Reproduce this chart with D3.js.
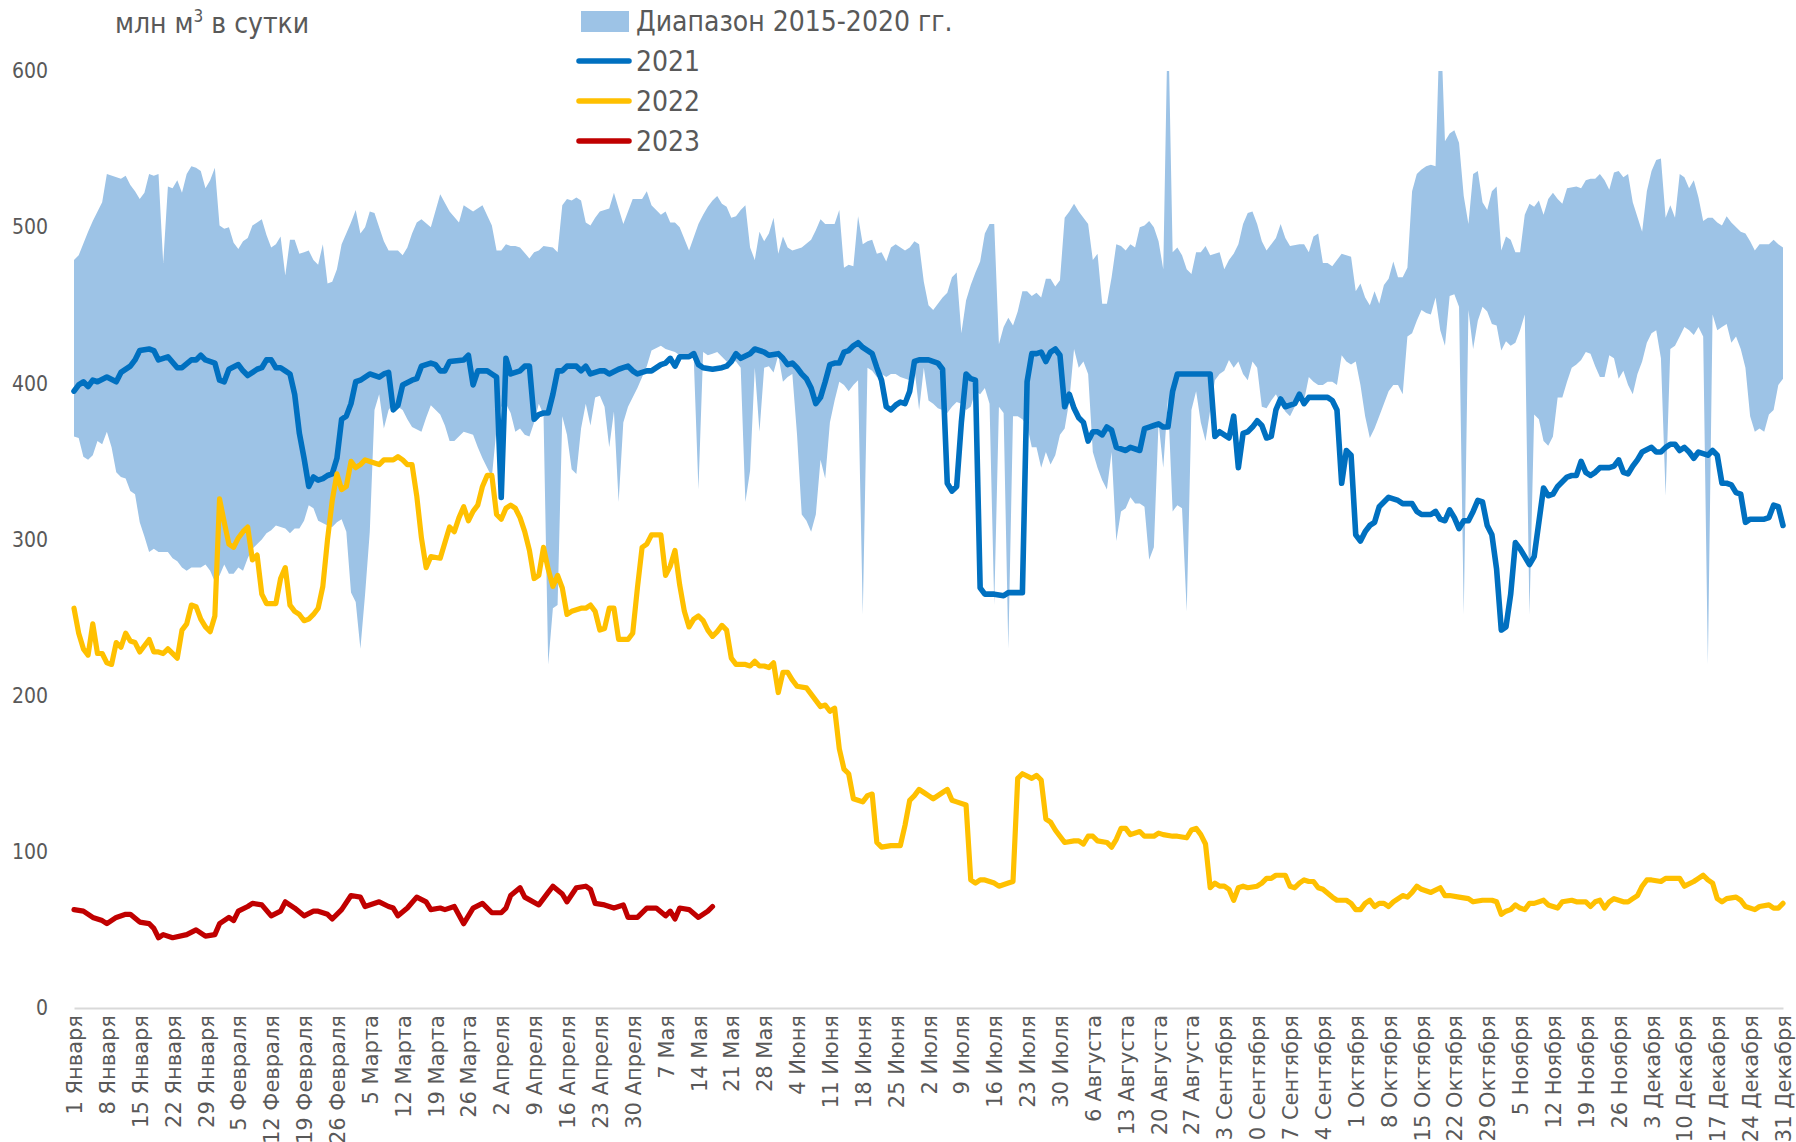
<!DOCTYPE html>
<html>
<head>
<meta charset="utf-8">
<script src="https://cdn.jsdelivr.net/npm/d3@7"></script>
<style>
  body { margin: 0; background: #fff; }
  svg { display: block; }
</style>
</head>
<body>
<script>
// tick labels every 7 days, day index 0 = 1 January
const dayLabels = ["1 Января","8 Января","15 Января","22 Января","29 Января","5 Февраля","12 Февраля","19 Февраля","26 Февраля",
  "5 Марта","12 Марта","19 Марта","26 Марта","2 Апреля","9 Апреля","16 Апреля","23 Апреля","30 Апреля","7 Мая","14 Мая",
  "21 Мая","28 Мая","4 Июня","11 Июня","18 Июня","25 Июня","2 Июля","9 Июля","16 Июля","23 Июля","30 Июля","6 Августа",
  "13 Августа","20 Августа","27 Августа","3 Сентября","10 Сентября","17 Сентября","24 Сентября","1 Октября","8 Октября",
  "15 Октября","22 Октября","29 Октября","5 Ноября","12 Ноября","19 Ноября","26 Ноября","3 Декабря","10 Декабря",
  "17 Декабря","24 Декабря","31 Декабря"];
const yTicks = [0, 100, 200, 300, 400, 500, 600];

// range 2015-2020, upper edge [day, value]
const bandHi = [[0,479],[1,482],[3,497],[4,504],[6,516],[7,534],[10,531],[11,533],[12,527],[13,523],[14,518],[15,522],[16,534],[17,533],[18,534],[19,477],[20,526],[21,525],[22,530],[23,522],[24,534],[25,539],[26,538],[27,536],[28,525],[29,530],[30,538],[31,501],[32,499],[33,500],[34,490],[35,486],[36,491],[37,493],[38,501],[39,503],[40,505],[41,495],[42,487],
  [43,489],[44,494],[45,469],[46,492],[47,492],[48,483],[49,484],[50,485],[51,479],[52,476],[53,489],[54,464],[55,465],[56,473],[57,489],[59,503],[60,511],[61,496],[62,500],[63,510],[64,509],[65,500],[66,491],[67,485],[69,485],[70,482],[71,487],[72,496],[73,503],[74,505],[76,500],[78,521],[80,510],[82,503],[83,514],[85,510],[87,514],[89,501],[90,485],
  [91,485],[92,489],[93,488],[94,488],[95,487],[97,480],[98,484],[99,485],[100,488],[102,487],[103,484],[104,514],[105,518],[106,517],[107,519],[108,517],[109,503],[110,501],[111,506],[112,510],[114,512],[115,522],[116,512],[117,502],[118,510],[119,518],[121,518],[122,523],[123,514],[125,508],[126,510],[127,503],[128,503],[129,500],[131,485],[133,502],[134,508],[135,513],
  [136,517],[137,520],[138,515],[139,513],[140,506],[141,507],[142,511],[143,514],[144,487],[145,479],[146,497],[147,491],[148,496],[149,506],[150,483],[151,494],[152,487],[153,485],[155,487],[157,492],[158,498],[159,505],[160,502],[162,502],[163,511],[164,474],[165,476],[166,475],[167,507],[168,489],[169,491],[170,492],[171,483],[172,484],[173,478],[174,487],[175,489],[177,485],[178,487],[179,491],[180,489],[181,465],
  [182,450],[183,447],[184,451],[185,455],[186,458],[187,468],[188,471],[189,432],[190,453],[191,463],[192,471],[193,478],[194,496],[195,502],[196,502],[197,425],[198,436],[199,442],[200,437],[201,446],[202,459],[203,459],[204,456],[205,458],[206,455],[207,467],[208,467],[209,462],[210,466],[211,506],[212,510],[213,515],[214,510],[216,502],[217,479],[218,483],[219,451],[220,451],[221,468],[222,489],[223,488],[224,485],[225,489],[226,487],
  [227,500],[228,501],[229,504],[230,500],[231,491],[232,473],[233,640],[234,484],[235,487],[236,482],[237,473],[238,470],[239,484],[240,484],[241,488],[242,482],[243,483],[244,484],[245,473],[246,479],[247,483],[248,489],[249,502],[250,509],[251,510],[252,502],[253,491],[254,485],[256,493],[257,502],[258,493],[259,488],[261,489],[262,489],[263,484],[264,494],[265,496],[266,477],[267,477],[268,475],[269,479],[270,483],[272,481],[273,459],[274,464],
  [275,455],[276,450],[277,459],[278,451],[279,463],[280,467],[281,478],[282,468],[283,468],[284,474],[285,523],[286,534],[287,537],[288,539],[289,540],[290,539],[291,640],[292,555],[293,560],[294,562],[295,554],[296,520],[297,502],[298,534],[299,536],[300,516],[301,511],[302,523],[303,526],[304,485],[305,494],[306,492],[307,484],[308,484],[309,508],[310,515],[311,513],[312,517],[313,508],[314,518],[315,522],[316,518],[317,515],[318,525],
  [320,526],[321,525],[322,530],[323,531],[324,531],[325,534],[326,530],[327,524],[328,535],[329,536],[330,532],[331,534],[332,516],[334,497],[335,523],[336,536],[337,543],[338,544],[339,506],[340,514],[341,506],[342,534],[343,532],[344,525],[345,530],[346,519],[347,504],[348,506],[349,506],[350,503],[351,501],[352,507],[353,503],[355,497],[356,496],[357,491],[358,485],[359,489],[361,489],[362,492],[363,489],[364,487]];

// range 2015-2020, lower edge [day, value]
const bandLo = [[0,366],[1,365],[2,353],[3,351],[4,354],[5,363],[6,361],[7,369],[8,359],[9,343],[10,340],[11,339],[12,331],[13,329],[14,311],[15,302],[16,292],[17,294],[18,292],[20,292],[21,288],[22,286],[23,282],[24,280],[25,282],[27,282],[28,284],[29,280],[30,273],[31,277],[32,284],[33,278],[34,278],[35,282],[36,280],[37,288],[38,294],[40,300],[41,304],[42,306],
  [43,309],[44,308],[45,307],[46,304],[47,307],[48,307],[49,312],[50,322],[51,320],[52,312],[54,309],[55,308],[56,311],[57,313],[58,305],[59,266],[60,260],[61,230],[62,265],[63,305],[64,383],[65,393],[66,371],[67,383],[68,387],[70,383],[71,377],[72,372],[74,369],[75,378],[76,386],[78,380],[79,373],[80,363],[81,363],[83,369],[85,367],[86,359],[87,352],[88,346],[89,340],[90,371],
  [91,385],[92,387],[93,381],[94,369],[95,371],[96,367],[97,366],[98,375],[99,387],[100,380],[101,220],[102,256],[103,258],[104,379],[105,367],[106,345],[107,342],[108,371],[109,387],[110,373],[111,391],[112,392],[113,385],[114,359],[115,382],[116,324],[117,375],[118,385],[120,397],[122,411],[123,421],[125,424],[126,422],[128,420],[129,418],[130,418],[132,416],[133,332],[134,420],[135,418],
  [136,419],[137,420],[139,414],[140,415],[141,414],[142,410],[143,324],[144,344],[145,410],[146,369],[147,410],[148,411],[149,407],[150,418],[151,401],[152,404],[153,406],[154,367],[155,316],[156,312],[157,305],[158,316],[159,351],[160,339],[161,375],[162,389],[163,401],[164,399],[165,395],[166,399],[167,402],[168,252],[169,410],[170,408],[171,404],[172,406],[173,404],[174,406],[175,406],[176,404],[178,402],[179,410],[180,383],[181,410],
  [182,389],[183,387],[184,384],[185,383],[186,381],[187,385],[188,388],[189,387],[190,383],[191,385],[192,395],[193,393],[194,397],[195,387],[196,258],[197,385],[198,381],[199,230],[200,379],[201,379],[202,377],[203,373],[204,359],[205,359],[206,346],[207,356],[208,348],[209,354],[210,367],[211,371],[212,389],[213,422],[214,410],[215,414],[216,406],[217,356],[218,346],[219,338],[220,332],[221,356],[222,299],[223,318],[224,320],[225,327],[226,323],
  [227,323],[228,321],[229,287],[230,295],[231,375],[232,346],[233,390],[234,318],[235,322],[236,320],[237,254],[238,383],[239,395],[240,375],[241,363],[242,383],[243,402],[244,406],[245,408],[246,415],[247,410],[248,414],[249,406],[250,402],[251,414],[252,410],[253,385],[254,384],[255,389],[256,393],[257,387],[258,382],[259,379],[260,385],[261,389],[262,389],[263,404],[264,401],[265,399],[266,399],[267,401],[268,401],[269,399],[270,418],[271,414],[272,412],
  [273,414],[274,399],[275,379],[276,365],[277,371],[278,379],[279,387],[280,395],[281,399],[282,399],[283,393],[284,430],[285,432],[286,440],[287,447],[288,445],[289,444],[290,455],[291,434],[292,424],[293,456],[294,457],[295,449],[296,252],[297,447],[298,422],[299,440],[300,449],[301,446],[302,438],[303,437],[304,421],[305,427],[306,424],[307,426],[308,434],[309,444],[310,252],[311,380],[312,377],[313,363],[314,360],[315,366],[316,391],[317,391],[318,401],[319,410],
  [320,412],[321,415],[322,420],[323,419],[324,411],[325,404],[326,404],[327,418],[328,416],[329,403],[330,408],[331,399],[332,393],[333,406],[334,414],[335,426],[336,432],[337,434],[338,416],[339,328],[340,422],[341,424],[342,430],[343,436],[344,434],[345,431],[346,436],[347,430],[348,220],[349,444],[350,434],[351,436],[352,438],[353,426],[354,430],[355,422],[356,410],[357,379],[358,369],[359,371],[360,369],[361,380],[362,383],[363,399],[364,403]];

// 2021 [day, value]
const s2021 = [[0,395],[1,399],[2,401],[3,398],[4,402],[5,401],[7,404],[9,401],[10,407],[12,411],[13,415],[14,421],[16,422],[17,421],[18,415],[20,417],[22,410],[23,410],[25,415],[26,415],[27,418],[28,415],[30,413],[31,402],[32,401],[33,409],[35,412],[36,408],[37,405],[39,409],[40,410],[41,415],[42,415],[43,410],
  [44,410],[45,408],[46,406],[47,393],[48,368],[49,352],[50,334],[51,340],[52,338],[53,339],[54,341],[55,342],[56,352],[57,377],[58,379],[59,387],[60,401],[61,402],[63,406],[65,404],[66,406],[67,407],[68,383],[69,386],[70,399],[72,402],[73,403],[74,411],[76,413],[77,412],[78,408],[79,408],[80,414],[83,415],[84,418],[85,399],[86,408],[88,408],[89,406],[90,404],
  [91,327],[92,416],[93,406],[94,407],[95,408],[96,411],[97,411],[98,377],[99,380],[100,381],[101,381],[102,393],[103,408],[104,408],[105,411],[107,411],[108,408],[109,411],[110,406],[112,408],[113,408],[114,406],[116,409],[117,410],[118,411],[119,408],[120,406],[122,408],[123,408],[125,412],[126,413],[127,416],[128,411],[129,417],[131,417],[132,419],[133,412],[134,410],
  [136,409],[138,410],[139,411],[140,414],[141,419],[142,416],[144,419],[145,422],[147,420],[148,418],[150,419],[151,416],[152,412],[153,413],[154,410],[155,406],[156,403],[157,397],[158,387],[159,391],[160,401],[161,412],[162,413],[163,413],[164,420],[165,421],[166,424],[167,426],[168,423],[170,419],[171,410],[172,402],[173,385],[174,383],[175,386],[176,388],[177,387],[178,395],[179,414],[180,415],[182,415],
  [184,413],[185,409],[186,336],[187,331],[188,334],[189,375],[190,406],[191,403],[192,402],[193,269],[194,265],[196,265],[198,264],[199,266],[202,266],[203,401],[204,419],[205,419],[206,420],[207,414],[208,420],[209,422],[210,418],[211,385],[212,393],[213,384],[214,378],[215,375],[216,363],[217,369],[218,369],[219,367],[220,372],[221,370],[222,359],[224,357],[225,359],[227,357],[228,371],
  [229,372],[230,373],[231,374],[232,372],[233,372],[234,395],[235,406],[236,406],[238,406],[240,406],[242,406],[243,366],[244,369],[245,367],[246,365],[247,379],[248,346],[249,368],[250,369],[251,372],[252,376],[253,373],[254,365],[255,366],[256,383],[257,390],[258,385],[259,386],[260,387],[261,393],[262,387],[263,391],[265,391],[267,391],[268,389],[269,383],[270,336],[271,357],[272,354],[273,303],[274,299],
  [275,305],[276,309],[277,311],[278,321],[279,324],[280,327],[281,326],[282,325],[283,323],[285,323],[286,318],[287,316],[288,316],[289,316],[290,318],[291,313],[292,312],[293,319],[294,314],[295,307],[296,312],[297,312],[298,318],[299,325],[300,324],[301,309],[302,303],[303,281],[304,242],[305,244],[306,265],[307,298],[308,294],[309,289],[310,284],[311,289],[313,333],[314,328],[315,329],[316,334],[317,337],[318,340],[319,341],
  [320,341],[321,350],[322,343],[323,341],[324,343],[325,346],[327,346],[328,347],[329,351],[330,343],[331,342],[332,347],[333,351],[334,356],[336,359],[337,356],[338,356],[339,359],[340,361],[341,361],[342,357],[343,359],[344,356],[345,352],[346,356],[347,355],[348,354],[349,357],[350,354],[351,336],[352,336],[353,335],[354,330],[355,329],[356,311],[357,313],[358,313],[360,313],[361,314],[362,322],[363,321],[364,309]];

// 2022 [day, value]
const s2022 = [[0,256],[1,240],[2,230],[3,226],[4,246],[5,227],[6,227],[7,221],[8,220],[9,234],[10,231],[11,240],[12,235],[13,234],[14,228],[16,236],[17,228],[18,228],[19,227],[20,230],[22,224],[23,242],[24,246],[25,258],[26,257],[27,249],[28,244],[29,241],[30,251],[31,326],[32,311],[33,297],[34,295],[35,301],[36,305],[37,308],[38,287],[39,290],[40,265],[41,259],[43,259],[44,275],[45,282],
  [46,258],[47,254],[48,252],[49,248],[50,249],[51,252],[52,256],[53,270],[54,300],[55,325],[56,342],[57,332],[58,334],[59,350],[60,346],[61,348],[62,351],[63,350],[64,349],[65,348],[66,351],[67,351],[68,351],[69,353],[70,351],[71,348],[72,348],[73,328],[74,301],[75,282],[76,289],[78,288],[80,308],[81,305],[82,314],[83,321],[84,312],[85,318],[86,322],[87,334],[88,341],[89,341],[90,316],[91,313],
  [92,320],[93,322],[94,320],[95,314],[96,305],[97,293],[98,275],[99,277],[100,295],[101,281],[102,270],[103,277],[104,269],[105,252],[106,254],[108,256],[109,256],[110,258],[111,254],[112,242],[113,243],[114,256],[115,256],[116,236],[117,236],[118,236],[119,240],[120,269],[121,295],[122,297],[123,303],[125,303],[126,277],[127,283],[128,293],[129,271],[130,254],[131,244],[132,249],[133,251],[134,248],[135,242],[136,238],
  [137,241],[138,245],[139,242],[140,224],[141,220],[143,220],[144,219],[145,222],[146,219],[147,219],[148,218],[149,221],[150,202],[151,215],[152,215],[153,210],[154,206],[156,205],[157,201],[158,197],[159,193],[160,194],[161,190],[162,192],[163,166],[164,153],[165,150],[166,134],[167,133],[168,132],[169,136],[170,137],[171,106],[172,103],[174,104],[176,104],[177,117],[178,133],[179,136],[180,140],[181,138],[182,136],
  [183,134],[185,138],[186,140],[187,133],[188,132],[190,130],[191,82],[192,80],[193,82],[194,82],[196,80],[197,78],[199,80],[200,81],[201,147],[202,150],[204,147],[205,149],[206,146],[207,121],[208,119],[209,114],[210,110],[211,106],[213,107],[214,107],[215,105],[216,110],[217,110],[218,107],[220,106],[221,103],[222,108],[223,115],[224,115],[225,111],[227,113],[228,110],
  [230,110],[231,112],[232,111],[234,110],[235,110],[237,109],[238,114],[239,115],[240,111],[241,105],[242,77],[243,80],[244,78],[245,78],[246,76],[247,69],[248,77],[249,78],[250,77],[252,78],[253,80],[254,83],[255,83],[256,85],[258,85],[259,78],[260,77],[261,80],[262,82],[263,81],[264,81],[265,77],[266,76],[268,71],[269,69],[271,69],[272,67],[273,63],[274,63],
  [275,67],[276,69],[277,65],[278,67],[279,67],[280,65],[281,68],[283,72],[284,71],[285,74],[286,78],[287,76],[289,74],[291,77],[292,72],[293,72],[295,71],[297,70],[298,68],[300,69],[302,69],[303,68],[304,60],[305,62],[306,63],[307,66],[308,64],[309,63],[310,67],[311,67],[313,69],[314,66],[316,64],[317,68],[319,69],
  [320,68],[322,68],[323,65],[324,68],[325,69],[326,64],[327,68],[328,70],[330,68],[331,68],[332,70],[333,72],[334,78],[335,82],[336,82],[338,81],[339,83],[340,83],[342,83],[343,78],[345,81],[346,83],[347,85],[348,82],[349,80],[350,70],[351,68],[352,70],[354,71],[355,69],[356,65],[358,63],[359,65],[361,66],[362,64],[363,64],[364,67]];

// 2023 [day, value]
const s2023 = [[0,63],[2,62],[4,58],[6,56],[7,54],[9,58],[11,60],[12,60],[14,55],[16,54],[17,51],[18,45],[19,47],[21,45],[24,47],[26,50],[28,46],[30,47],[31,54],[33,58],[34,56],[35,62],[37,65],[38,67],[40,66],[42,59],[44,62],
  [45,68],[47,64],[49,59],[51,62],[52,62],[54,60],[55,57],[57,63],[59,72],[61,71],[62,65],[65,68],[67,65],[68,64],[69,59],[71,64],[73,71],[75,68],[76,63],[78,64],[79,63],[81,65],[83,54],[85,64],[87,67],[89,61],[91,61],
  [92,64],[93,72],[95,77],[96,71],[99,66],[101,74],[102,78],[104,73],[105,68],[107,77],[109,78],[110,76],[111,67],[113,66],[115,64],[117,66],[118,58],[120,58],[122,64],[124,64],[126,59],[127,62],[128,57],[129,64],[131,63],[133,58],[135,62],[136,65]];

const width = 1796;
const height = 1142;
const textColor = '#595959';
const narrow = "'Liberation Sans Narrow','DejaVu Sans Condensed','Arial Narrow',sans-serif";

const svg = d3.select('body')
  .append('svg')
  .attr('width', width)
  .attr('height', height);

const x = d3.scaleLinear().domain([0, 364]).range([74, 1783]);
const y = d3.scaleLinear().domain([0, 600]).range([1008, 71]);

// clip so the band spikes stop at 600
svg.append('defs').append('clipPath')
  .attr('id', 'plot-clip')
  .append('rect')
  .attr('x', 0)
  .attr('y', y(600))
  .attr('width', width)
  .attr('height', y(0) - y(600));

const line = d3.line()
  .x((d) => x(d[0]))
  .y((d) => y(d[1]));

// band polygon: upper edge forward, lower edge back
svg.append('path')
  .attr('clip-path', 'url(#plot-clip)')
  .attr('d', line(bandHi.concat(bandLo.slice().reverse())) + 'Z')
  .attr('fill', '#9DC3E6');

// x axis
const xAxis = svg.append('g')
  .attr('transform', `translate(0,${y(0)})`)
  .call(d3.axisBottom(x)
    .tickValues(d3.range(0, 365, 7))
    .tickFormat((d, i) => dayLabels[i])
    .tickSize(0));
xAxis.select('.domain')
  .attr('stroke', '#d9d9d9')
  .attr('stroke-width', 2);
xAxis.selectAll('text')
  .attr('transform', 'rotate(-90)')
  .attr('text-anchor', 'end')
  .attr('x', -7)
  .attr('y', 0)
  .attr('dy', '0.36em')
  .attr('fill', textColor)
  .style('font-family', "'DejaVu Sans',Verdana,sans-serif")
  .style('font-size', '21px');

// y axis labels only
const yAxis = svg.append('g')
  .attr('transform', 'translate(50,0)')
  .call(d3.axisLeft(y).tickValues(yTicks).tickSize(0).tickPadding(2));
yAxis.select('.domain').remove();
yAxis.selectAll('text')
  .attr('fill', textColor)
  .style('font-family', narrow)
  .style('font-size', '21px');

// series lines
const series = [
  { data: s2021, color: '#0070C0', w: 5.6 },
  { data: s2022, color: '#FFC000', w: 5.2 },
  { data: s2023, color: '#C00000', w: 5.2 }
];
series.forEach((s) => {
  svg.append('path')
    .attr('d', line(s.data))
    .attr('fill', 'none')
    .attr('stroke', s.color)
    .attr('stroke-width', s.w)
    .attr('stroke-linejoin', 'round')
    .attr('stroke-linecap', 'round');
});

// unit title
const title = svg.append('text')
  .attr('x', 115)
  .attr('y', 33)
  .attr('fill', textColor)
  .style('font-family', narrow)
  .style('font-size', '28px');
title.append('tspan').text('млн м');
title.append('tspan').attr('dy', -11).style('font-size', '17px').text('3');
title.append('tspan').attr('dy', 11).text(' в сутки');

// legend
const legend = svg.append('g').style('font-family', narrow).style('font-size', '28px');
legend.append('rect')
  .attr('x', 581).attr('y', 11)
  .attr('width', 48).attr('height', 21)
  .attr('fill', '#9DC3E6');
legend.append('text')
  .attr('x', 636).attr('y', 21).attr('dy', '0.35em')
  .attr('fill', textColor)
  .text('Диапазон 2015-2020 гг.');
const legendLines = [['2021', '#0070C0', 61], ['2022', '#FFC000', 101], ['2023', '#C00000', 141]];
legendLines.forEach(([name, color, ly]) => {
  legend.append('line')
    .attr('x1', 579).attr('x2', 629)
    .attr('y1', ly).attr('y2', ly)
    .attr('stroke', color)
    .attr('stroke-width', 5.5)
    .attr('stroke-linecap', 'round');
  legend.append('text')
    .attr('x', 636).attr('y', ly).attr('dy', '0.35em')
    .attr('fill', textColor)
    .text(name);
});
</script>
</body>
</html>
